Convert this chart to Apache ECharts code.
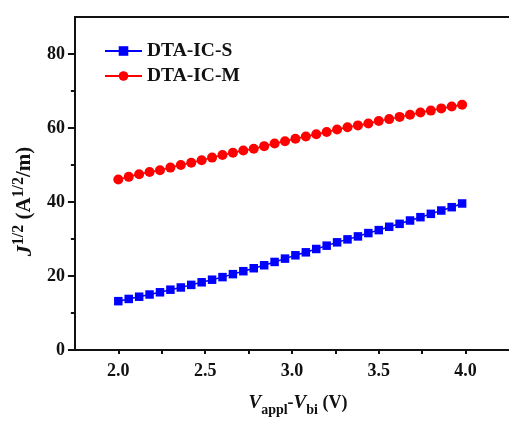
<!DOCTYPE html>
<html>
<head>
<meta charset="utf-8">
<script src="https://cdn.jsdelivr.net/npm/echarts@6/dist/echarts.min.js"></script>
<style>
  html, body { margin: 0; padding: 0; background: #ffffff; }
  #chart { width: 509px; height: 422px; }
</style>
</head>
<body>
<div id="chart"></div>
<script>
// Data
const xValues = [2.00, 2.06, 2.12, 2.18, 2.24, 2.30, 2.36, 2.42, 2.48, 2.54, 2.60, 2.66, 2.72,
  2.78, 2.84, 2.90, 2.96, 3.02, 3.08, 3.14, 3.20, 3.26, 3.32, 3.38, 3.44, 3.50, 3.56,
  3.62, 3.68, 3.74, 3.80, 3.86, 3.92, 3.98];
const seriesS = [13.2, 13.8, 14.4, 15.0, 15.6, 16.3, 16.9, 17.6, 18.3, 19.0, 19.7, 20.5, 21.3,
  22.1, 22.9, 23.8, 24.7, 25.6, 26.4, 27.3, 28.2, 29.1, 29.9, 30.7, 31.6, 32.4, 33.3,
  34.1, 35.0, 35.9, 36.8, 37.7, 38.6, 39.6];
const seriesM = [46.1, 46.8, 47.5, 48.1, 48.6, 49.3, 50.0, 50.6, 51.3, 52.0, 52.7, 53.3, 53.9,
  54.4, 55.1, 55.8, 56.4, 57.1, 57.7, 58.3, 58.9, 59.6, 60.2, 60.7, 61.2, 61.9, 62.4,
  63.0, 63.6, 64.2, 64.7, 65.3, 65.8, 66.3];
const seriesNames = ['DTA-IC-S', 'DTA-IC-M'];
const xTickLabels = [2.0, 2.5, 3.0, 3.5, 4.0];
const xTicks = [2.0, 2.25, 2.5, 2.75, 3.0, 3.25, 3.5, 3.75, 4.0];
const yTickLabels = [0, 20, 40, 60, 80];
const yMinorTicks = [10, 30, 50, 70];

const FONT = '"Liberation Serif", "DejaVu Serif", serif';

const chart = echarts.init(document.getElementById('chart'), null, { renderer: 'canvas' });

const option = {
  backgroundColor: '#ffffff',
  animation: false,
  grid: { left: 72, right: -6, top: 17, bottom: 71.5, containLabel: false },
  legend: {
    left: 99, top: 36, orient: 'vertical',
    itemWidth: 37, itemHeight: 12, itemGap: 5,
    textStyle: { fontFamily: FONT, fontWeight: 'bold', fontSize: 19.5, color: '#111', lineHeight: 19 },
    data: seriesNames
  },
  xAxis: [
    {
      type: 'value', min: 1.75, max: 4.25, position: 'bottom',
      axisLine: { show: true, onZero: false, lineStyle: { color: '#111', width: 2 } },
      axisTick: { show: true, inside: false, length: 4, lineStyle: { color: '#111', width: 2 }, customValues: xTicks },
      axisLabel: {
        customValues: xTickLabels, margin: 12,
        fontFamily: FONT, fontWeight: 'bold', fontSize: 18, color: '#111',
        formatter: v => v.toFixed(1)
      },
      splitLine: { show: false },
      name: '{i|V}{sub|appl}{n|-}{i|V}{sub|bi}{n| (V)}',
      nameLocation: 'middle', nameGap: 44,
      nameTextStyle: {
        padding: [0, 0, 0, 12],
        rich: {
          i: { fontFamily: FONT, fontStyle: 'italic', fontWeight: 'bold', fontSize: 19, color: '#111', lineHeight: 20, verticalAlign: 'top' },
          n: { fontFamily: FONT, fontWeight: 'bold', fontSize: 18, color: '#111', lineHeight: 20, verticalAlign: 'top' },
          sub: { fontFamily: FONT, fontWeight: 'bold', fontSize: 14, color: '#111', lineHeight: 14, padding: [12, 0, 0, 0] }
        }
      }
    },
    {
      type: 'value', min: 1.75, max: 4.25, position: 'top',
      axisLine: { show: true, onZero: false, lineStyle: { color: '#111', width: 2 } },
      axisTick: { show: false }, axisLabel: { show: false }, splitLine: { show: false }
    }
  ],
  yAxis: [
    {
      type: 'value', min: 0, max: 90, position: 'left',
      axisLine: { show: true, onZero: false, lineStyle: { color: '#111', width: 2 } },
      axisTick: { show: true, inside: false, length: 7, lineStyle: { color: '#111', width: 2 }, customValues: yTickLabels },
      axisLabel: {
        customValues: yTickLabels, margin: 10,
        fontFamily: FONT, fontWeight: 'bold', fontSize: 18, color: '#111'
      },
      splitLine: { show: false },
      name: '{i|J}{sup|1/2}{n| (A}{sup|1/2}{n|/m)}',
      nameLocation: 'middle', nameGap: 38, nameRotate: 90,
      nameTextStyle: {
        padding: [0, 36, 0, 0],
        rich: {
          i: { fontFamily: FONT, fontStyle: 'italic', fontWeight: 'bold', fontSize: 22, color: '#111', lineHeight: 22, padding: [6, 0, 0, 0] },
          n: { fontFamily: FONT, fontWeight: 'bold', fontSize: 21, color: '#111', lineHeight: 22, padding: [6, 0, 0, 0] },
          sup: { fontFamily: FONT, fontWeight: 'bold', fontSize: 16, color: '#111', lineHeight: 16, verticalAlign: 'top' }
        }
      }
    },
    {
      type: 'value', min: 0, max: 90, position: 'left',
      axisLine: { show: false },
      axisTick: { show: true, inside: false, length: 4, lineStyle: { color: '#111', width: 2 }, customValues: yMinorTicks },
      axisLabel: { show: false }, splitLine: { show: false }
    }
  ],
  series: [
    {
      name: seriesNames[0], type: 'line', xAxisIndex: 0, yAxisIndex: 0,
      data: xValues.map((x, i) => [x, seriesS[i]]),
      symbol: 'rect', symbolSize: 8.5,
      itemStyle: { color: '#0000ff' },
      lineStyle: { color: '#0000ff', width: 1.5 }
    },
    {
      name: seriesNames[1], type: 'line', xAxisIndex: 0, yAxisIndex: 0,
      data: xValues.map((x, i) => [x, seriesM[i]]),
      symbol: 'circle', symbolSize: 10,
      itemStyle: { color: '#ff0000' },
      lineStyle: { color: '#ff0000', width: 1.5 }
    }
  ]
};
chart.setOption(option);
</script>
</body>
</html>
